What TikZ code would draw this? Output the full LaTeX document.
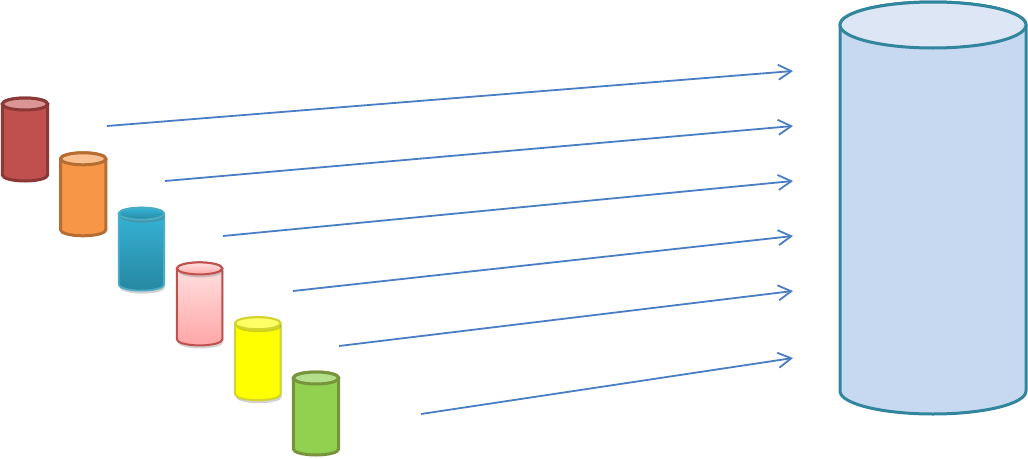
\documentclass[tikz,border=0pt]{standalone}
\usetikzlibrary{arrows.meta,shadows}

\definecolor{redbody}{HTML}{C0504D}
\definecolor{redtop}{HTML}{D99694}
\definecolor{redrim}{HTML}{8C3836}
\definecolor{orangebody}{HTML}{F79646}
\definecolor{orangetop}{HTML}{FAC090}
\definecolor{orangerim}{HTML}{B66D31}
\definecolor{bluehi}{HTML}{35B5D8}
\definecolor{bluelo}{HTML}{2888A2}
\definecolor{bluetop}{HTML}{86CEE4}
\definecolor{bluerim}{HTML}{4BACC6}
\definecolor{pinkhi}{HTML}{FFE3E3}
\definecolor{pinklo}{HTML}{FFA6A6}
\definecolor{pinktop}{HTML}{FFEEEE}
\definecolor{pinkrim}{HTML}{C0504D}
\definecolor{yellowbody}{HTML}{FFFF00}
\definecolor{yellowtop}{HTML}{FFFF66}
\definecolor{yellowrim}{HTML}{D4D42E}
\definecolor{greenbody}{HTML}{92D050}
\definecolor{greentop}{HTML}{B3DE8A}
\definecolor{greenrim}{HTML}{77933C}
\definecolor{poolbody}{HTML}{C6D9F1}
\definecolor{pooltop}{HTML}{DCE6F5}
\definecolor{poolrim}{HTML}{31859C}
\definecolor{flowblue}{HTML}{4A7EC4}

\begin{document}
\begin{tikzpicture}[x=1pt,y=-1pt]

\tikzstyle{shade}=[drop shadow={shadow xshift=1pt,shadow yshift=-3pt,opacity=0.3,fill=black!60}]
\tikzstyle{redstore}=[fill=redbody,draw=redrim,line width=3pt]
\tikzstyle{orangestore}=[fill=orangebody,draw=orangerim,line width=3pt]
\tikzstyle{bluestore}=[top color=bluehi,bottom color=bluelo,draw=bluerim,line width=1.8pt,shade]
\tikzstyle{pinkstore}=[top color=pinkhi,bottom color=pinklo,draw=pinkrim,line width=2pt,shade]
\tikzstyle{yellowstore}=[fill=yellowbody,draw=yellowrim,line width=2pt,shade]
\tikzstyle{greenstore}=[fill=greenbody,draw=greenrim,line width=3pt]
\tikzstyle{poolstore}=[fill=poolbody,draw=poolrim,line width=3pt]
\tikzstyle{flow} = [draw=flowblue,line width=1.8pt,-{Straight Barb[length=13pt,width=15pt,line width=1.8pt]}]

\def \rx {22.7}
\def \ry {6}
\def \h {71}

\useasboundingbox (0,0) rectangle (1028,458);

% small stores, stepping down to the right
\foreach \s/\c in {1/red, 2/orange, 3/blue, 4/pink, 5/yellow, 6/green}
{
  \coordinate (\c) at ({25+58.2*(\s-1)},{104+54.8*(\s-1)});
  \path[\c store] ([xshift=-\rx pt]\c) -- ++(0,\h) arc[start angle=180,end angle=0,x radius=\rx,y radius=\ry] -- ++(0,-\h) arc[start angle=0,end angle=-180,x radius=\rx,y radius=\ry] -- cycle;
  \path[\c store,fill=\c top] (\c) ellipse[x radius=\rx,y radius=\ry];
}

% the big store
\coordinate (pool) at (933,25);
\path[poolstore] ([xshift=-93pt]pool) -- ++(0,366) arc[start angle=180,end angle=0,x radius=93,y radius=23] -- ++(0,-366) arc[start angle=0,end angle=-180,x radius=93,y radius=23] -- cycle;
\path[poolstore,fill=pooltop] (pool) ellipse[x radius=93,y radius=23];

\foreach \s/\x/\y/\yy in {1/107/126/71, 2/165/181/126, 3/223/236/181, 4/293/291/236, 5/339/346/291, 6/421/414/358}
{
  \coordinate (from\s) at (\x,\y);
  \coordinate (to\s) at (793,\yy);
  \path[flow] (from\s) -- (to\s);
}
\end{tikzpicture}
\end{document}
